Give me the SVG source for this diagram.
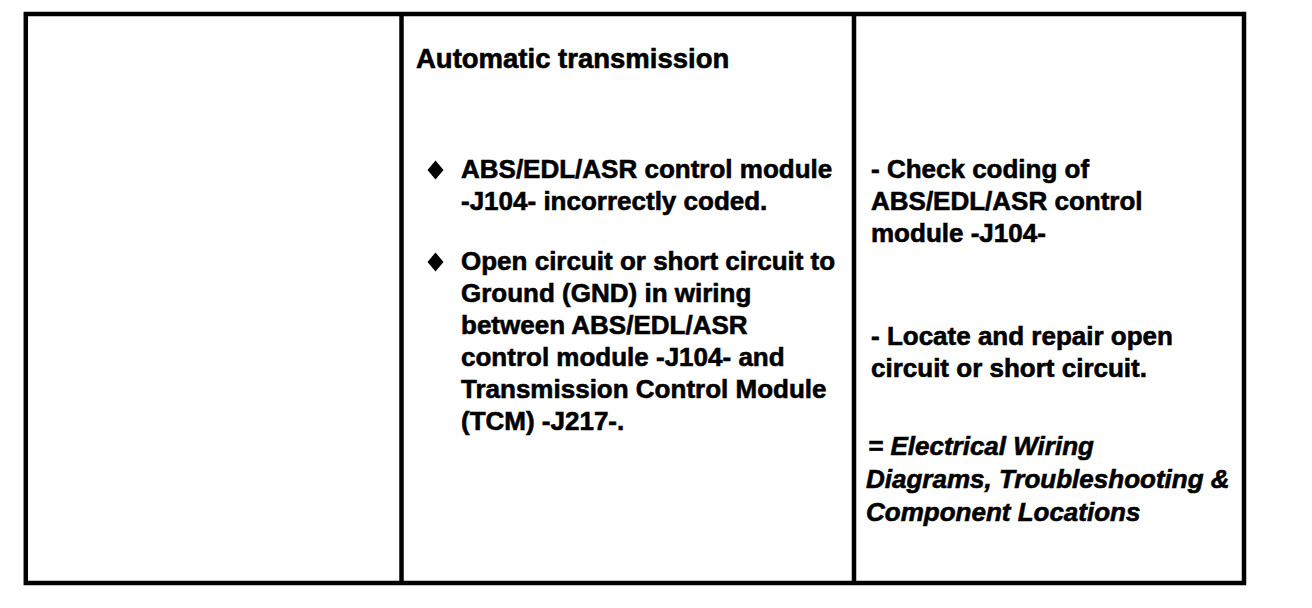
<svg xmlns="http://www.w3.org/2000/svg" width="1312" height="608" viewBox="0 0 1312 608">
<style>
.t{font-family:"Liberation Sans",Arial,sans-serif;font-weight:bold;font-size:26px;fill:#000;stroke:#000;stroke-width:0.6}
.h{font-size:27.5px}
.i{font-style:italic}
.ln{stroke:#000;stroke-width:4.5;fill:none}
</style>
<rect x="0" y="0" width="1312" height="608" fill="#fff"/>
<g id="table-frame">
<rect class="ln" x="25.8" y="14" width="1218.2" height="569"/>
<line class="ln" x1="401.5" y1="14" x2="401.5" y2="583"/>
<line class="ln" x1="854" y1="14" x2="854" y2="583"/>
</g>
<g id="cell-1"></g>
<g id="cell-2">
<text class="t h" x="416" y="68">Automatic transmission</text>
<polygon points="435.5,160.5 443.5,170 435.5,179.5 427.5,170" fill="#000"/>
<text class="t" x="461" y="178">ABS/EDL/ASR control module</text>
<text class="t" x="461" y="210">-J104- incorrectly coded.</text>
<polygon points="435.5,252.5 443.5,262 435.5,271.5 427.5,262" fill="#000"/>
<text class="t" x="461" y="270">Open circuit or short circuit to</text>
<text class="t" x="461" y="302">Ground (GND) in wiring</text>
<text class="t" x="461" y="334">between ABS/EDL/ASR</text>
<text class="t" x="461" y="366">control module -J104- and</text>
<text class="t" x="461" y="398">Transmission Control Module</text>
<text class="t" x="461" y="430">(TCM) -J217-.</text>
</g>
<g id="cell-3">
<text class="t" x="871" y="178">- Check coding of</text>
<text class="t" x="871" y="210">ABS/EDL/ASR control</text>
<text class="t" x="871" y="242">module -J104-</text>
<text class="t" x="871" y="345">- Locate and repair open</text>
<text class="t" x="871" y="377">circuit or short circuit.</text>
<text class="t i" x="868" y="455">=  Electrical Wiring</text>
<text class="t i" x="866" y="488">Diagrams, Troubleshooting &amp;</text>
<text class="t i" x="866" y="521">Component Locations</text>
</g>
</svg>
